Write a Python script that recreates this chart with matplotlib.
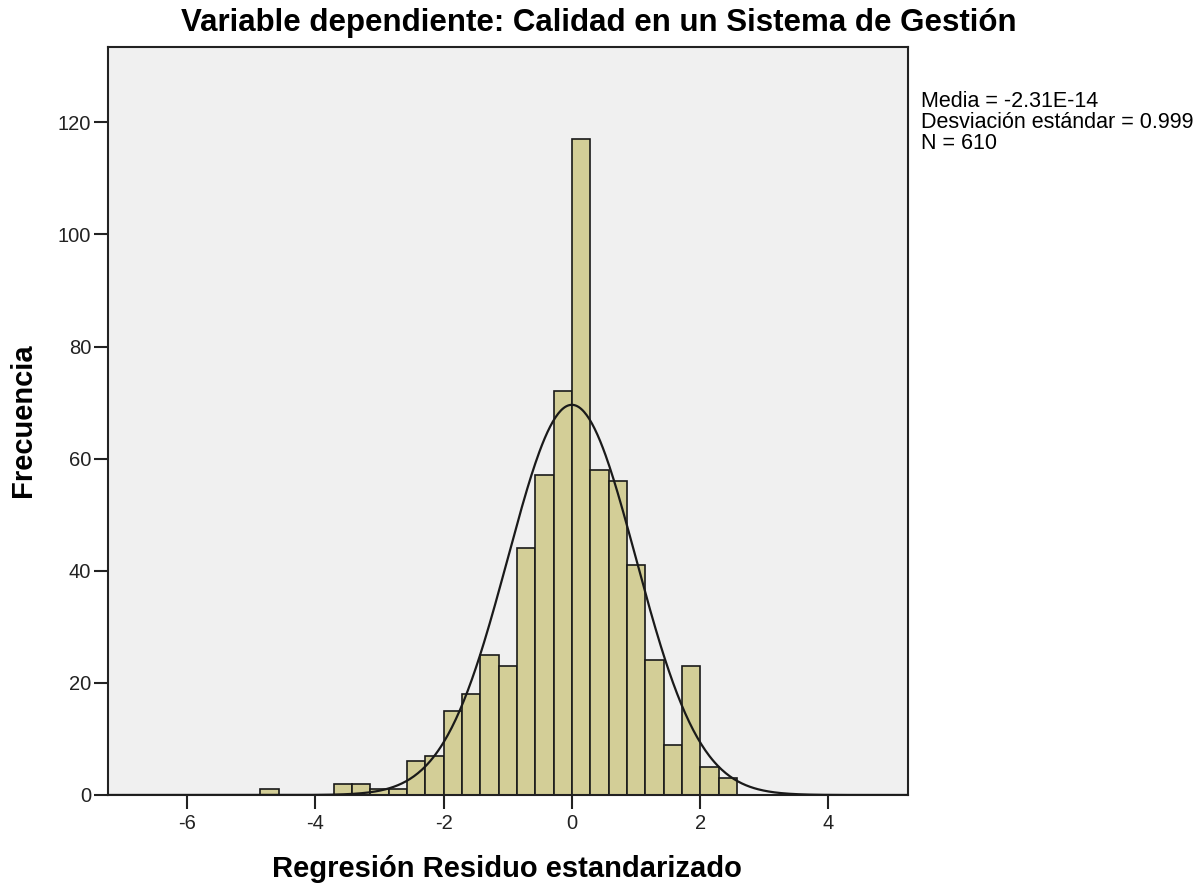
import numpy as np
import matplotlib
matplotlib.use("Agg")
import matplotlib.pyplot as plt

# histogram of standardized residuals (bin width 2/7, edges at k*2/7)
bin_index = [-17, -13, -12, -11, -10, -9, -8, -7, -6, -5, -4, -3, -2, -1,
             0, 1, 2, 3, 4, 5, 6, 7, 8]
counts = [1, 2, 2, 1, 1, 6, 7, 15, 18, 25, 23, 44, 57, 72,
          117, 58, 56, 41, 24, 9, 23, 5, 3]
bin_width = 2 / 7

mean = -2.31e-14
std = 0.999
n = 610

x_ticks = [-6, -4, -2, 0, 2, 4]
y_ticks = [0, 20, 40, 60, 80, 100, 120]

title = "Variable dependiente: Calidad en un Sistema de Gestión"
x_label = "Regresión Residuo estandarizado"
y_label = "Frecuencia"
stats_text = "Media = -2.31E-14\nDesviación estándar = 0.999\nN = 610"

plt.rcParams['font.family'] = ['Liberation Sans', 'DejaVu Sans']
plt.rcParams['axes.unicode_minus'] = False

fig = plt.figure(figsize=(12, 8.85), dpi=100)
ax = fig.add_axes([0.09, 0.1017, 0.6667, 0.845])
ax.set_facecolor("#F0F0F0")

left_edges = np.array(bin_index) * bin_width
ax.bar(left_edges, counts, width=bin_width, align="edge",
       color="#D3CE97", edgecolor="#1a1a1a", linewidth=1.2, zorder=2)

xs = np.linspace(-7.3, 5.3, 600)
pdf = np.exp(-0.5 * ((xs - mean) / std) ** 2) / (std * np.sqrt(2 * np.pi))
ax.plot(xs, n * bin_width * pdf, color="#1a1a1a", linewidth=1.6, zorder=3)

ax.set_xlim(-7.23, 5.24)
ax.set_ylim(0, 133.4)
ax.set_xticks(x_ticks)
ax.set_yticks(y_ticks)
ax.tick_params(direction="out", length=10, width=1.5, labelsize=14.5,
               colors="#222222")
ax.tick_params(axis="x", pad=4)
ax.tick_params(axis="y", pad=2)
for spine in ax.spines.values():
    spine.set_linewidth(1.5)
    spine.set_color("#222222")

fig.text(507 / 1200, 1 - 877 / 885, x_label, fontsize=21, fontweight="bold",
         ha="center", va="baseline")
fig.text(23 / 1200, 1 - 420 / 885, y_label, fontsize=21, fontweight="bold",
         ha="center", va="center", rotation=90)
fig.text(0.499, 1 - 31 / 885, title, fontsize=22.5, fontweight="bold",
         ha="center", va="baseline")
fig.text(921 / 1200, 1 - 91 / 885, stats_text, fontsize=15.5, ha="left",
         va="top", linespacing=1.0)

fig.savefig("out.png", dpi=100)
